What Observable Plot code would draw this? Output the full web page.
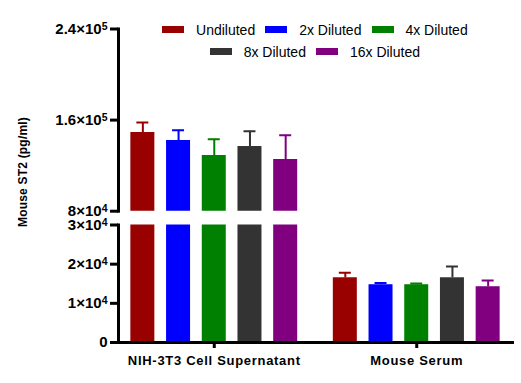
<!DOCTYPE html>
<html><head><meta charset="utf-8">
<script src="https://cdn.jsdelivr.net/npm/d3@7"></script>
<script src="https://cdn.jsdelivr.net/npm/@observablehq/plot@0.6"></script>
<style>
html,body{margin:0;padding:0;background:#fff;overflow:hidden}
#chart{position:relative;width:521px;height:383px;font-family:"Liberation Sans",Arial,sans-serif;color:#000}
#chart svg{position:absolute;left:0}
#legend{position:absolute;left:110px;top:18.5px;width:410px;font-size:14px;z-index:2}
.lrow{display:flex;justify-content:center;height:22px;line-height:22px;gap:10.3px}
.litem{display:flex;align-items:center;white-space:nowrap}
.sw{display:inline-block;width:22px;height:7px;margin-right:11.7px}
#ytitle{position:absolute;left:-77px;top:164px;width:200px;text-align:center;font-weight:bold;font-size:12px;letter-spacing:0.2px;transform:rotate(-90deg);transform-origin:center;line-height:16px}
</style></head><body><div id="chart"></div>
<script>
const groups = ["NIH-3T3 Cell Supernatant", "Mouse Serum"];
const dilutions = ["Undiluted", "2x Diluted", "4x Diluted", "8x Diluted", "16x Diluted"];
const colors = ["#990000", "#0000ff", "#008000", "#333333", "#800080"];
const nihMeans = [149100, 142100, 128900, 136800, 125400];
const nihUpper = [157900, 151100, 143200, 150300, 146700];
const serumMeans = [16530, 14750, 14750, 16530, 14240];
const serumUpper = [17800, 15180, 15080, 19400, 15840];
const upperTicks = [80000, 160000, 240000];
const upperTickLabels = ["8×10^4", "1.6×10^5", "2.4×10^5"];
const lowerTicks = [0, 10000, 20000, 30000];
const lowerTickLabels = ["0", "1×10^4", "2×10^4", "3×10^4"];
const yTitle = "Mouse ST2 (pg/ml)";
const lowerDomain = [0, 30000];
const upperDomain = [80000, 240000];

const rows = [];
dilutions.forEach((d, i) => {
  rows.push({group: groups[0], dilution: d, mean: nihMeans[i], upper: nihUpper[i]});
  rows.push({group: groups[1], dilution: d, mean: serumMeans[i], upper: serumUpper[i]});
});

function superscripts(svg) {
  svg.querySelectorAll("text").forEach(t => {
    const m = t.textContent.match(/^(.*)\^(\d+)$/);
    if (!m) return;
    t.textContent = "";
    const a = document.createElementNS("http://www.w3.org/2000/svg", "tspan");
    a.textContent = m[1];
    const b = document.createElementNS("http://www.w3.org/2000/svg", "tspan");
    b.textContent = m[2];
    b.setAttribute("dy", "-0.38em");
    b.setAttribute("font-size", "0.7em");
    t.appendChild(a); t.appendChild(b);
  });
}

function panel({domain, ticks, labels, height, marginTop, marginBottom, showX}) {
  const fmt = v => labels[ticks.indexOf(v)];
  const marks = [
    Plot.barY(rows, {fx: "group", x: "dilution", y: "mean", fill: "dilution", clip: true}),
    Plot.ruleX(rows, {fx: "group", x: "dilution", y1: "mean", y2: "upper", stroke: "dilution", strokeWidth: 2, clip: true}),
    Plot.tickY(rows, {fx: "group", x: "dilution", y: "upper", stroke: "dilution", strokeWidth: 2, insetLeft: 6, insetRight: 6, clip: true}),
    Plot.axisY({ticks, tickFormat: fmt, tickSize: 8, tickPadding: 3, strokeWidth: 3, fontWeight: "bold", fontSize: 15, fill: "#000", stroke: "#000", label: null}),
    Plot.frame({anchor: "left", facet: "super", strokeWidth: 3, stroke: "#000"})
  ];
  if (showX) {
    marks.push(Plot.frame({anchor: "bottom", facet: "super", strokeWidth: 3, stroke: "#000"}));
    marks.push(Plot.axisFx({anchor: "bottom", tickSize: 6, tickPadding: 7, strokeWidth: 3, fontWeight: "bold", fontSize: 13, label: null, fill: "#000", stroke: "#000"}));
  }
  const svg = Plot.plot({
    width: 521, height, marginLeft: 118, marginRight: 9, marginTop, marginBottom,
    style: {background: "transparent", overflow: "visible", fontFamily: '"Liberation Sans", Arial, sans-serif', color: "#000"},
    fx: {domain: groups, paddingInner: 0.054, paddingOuter: 0, round: false, label: null, axis: null},
    x: {domain: dilutions, paddingInner: 0.328, paddingOuter: 0.346, round: false, axis: null},
    y: {domain, axis: null},
    color: {domain: dilutions, range: colors},
    marks
  });
  superscripts(svg);
  return svg;
}

const chart = document.getElementById("chart");
const topPanel = panel({domain: upperDomain, ticks: upperTicks, labels: upperTickLabels, height: 216, marginTop: 28.5, marginBottom: 5.3, showX: false});
topPanel.style.top = "0px";
const bottomPanel = panel({domain: lowerDomain, ticks: lowerTicks, labels: lowerTickLabels, height: 169, marginTop: 10.5, marginBottom: 41, showX: true});
bottomPanel.style.top = "214px";
chart.appendChild(topPanel);
chart.appendChild(bottomPanel);
bottomPanel.querySelectorAll('g[aria-label="fx-axis tick label"] text').forEach(t => t.style.letterSpacing = "0.7px");

// legend
const legend = document.createElement("div");
legend.id = "legend";
[[0, 1, 2], [3, 4]].forEach(idx => {
  const row = document.createElement("div");
  row.className = "lrow";
  idx.forEach(i => {
    const it = document.createElement("div");
    it.className = "litem";
    const sw = document.createElement("span");
    sw.className = "sw";
    sw.style.background = colors[i];
    it.appendChild(sw);
    it.appendChild(document.createTextNode(dilutions[i]));
    row.appendChild(it);
  });
  legend.appendChild(row);
});
chart.appendChild(legend);

const yt = document.createElement("div");
yt.id = "ytitle";
yt.textContent = yTitle;
chart.appendChild(yt);
</script>
</body></html>
